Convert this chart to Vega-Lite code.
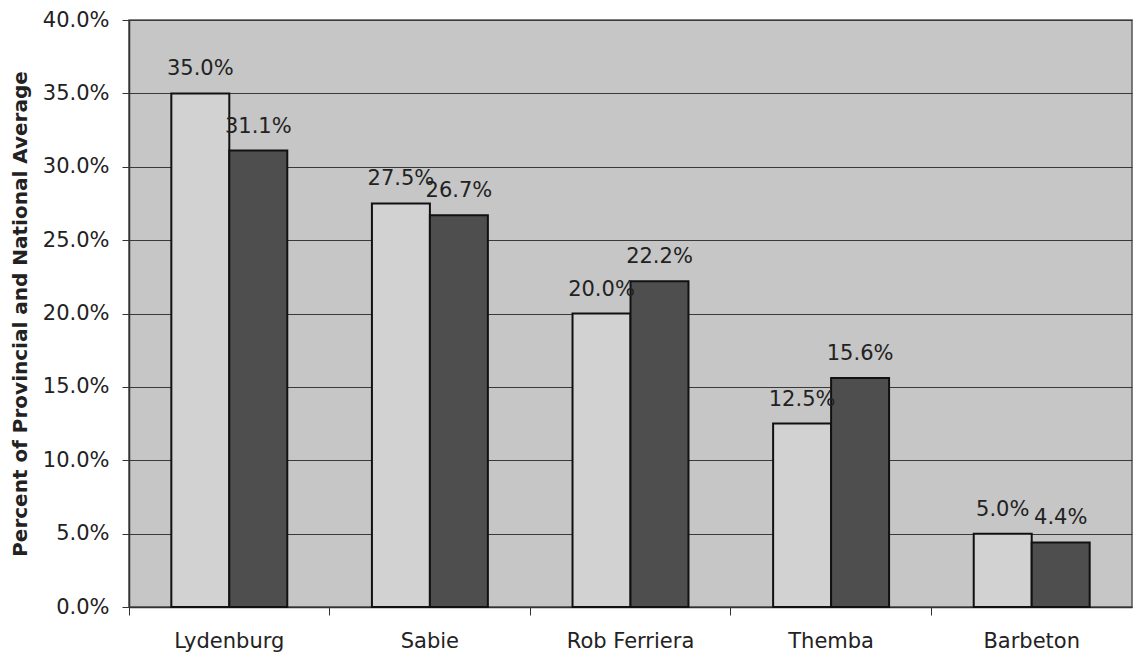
{
  "$schema": "https://vega.github.io/schema/vega-lite/v6.json",
  "width": 1003,
  "height": 587,
  "autosize": {"type": "none"},
  "padding": {"left": 129, "top": 20, "right": 8, "bottom": 51},
  "background": "#ffffff",
  "config": {
    "font": "DejaVu Sans",
    "view": {"fill": "#c6c6c6", "stroke": "#555555", "strokeWidth": 1.5}
  },
  "data": {
    "values": [
      {"district": "Lydenburg", "series": "Provincial", "share": 0.350},
      {"district": "Lydenburg", "series": "National", "share": 0.311},
      {"district": "Sabie", "series": "Provincial", "share": 0.275},
      {"district": "Sabie", "series": "National", "share": 0.267},
      {"district": "Rob Ferriera", "series": "Provincial", "share": 0.200},
      {"district": "Rob Ferriera", "series": "National", "share": 0.222},
      {"district": "Themba", "series": "Provincial", "share": 0.125},
      {"district": "Themba", "series": "National", "share": 0.156},
      {"district": "Barbeton", "series": "Provincial", "share": 0.050},
      {"district": "Barbeton", "series": "National", "share": 0.044}
    ]
  },
  "encoding": {
    "x": {
      "field": "district",
      "type": "nominal",
      "sort": null,
      "scale": {"paddingInner": 0, "paddingOuter": 0},
      "axis": {
        "title": null,
        "labelAngle": 0,
        "labelFontSize": 21,
        "labelColor": "#222222",
        "labelPadding": 15,
        "bandPosition": 0,
        "tickSize": 8,
        "tickColor": "#333333",
        "domainColor": "#333333",
        "domainWidth": 1.5,
        "grid": false
      }
    },
    "xOffset": {
      "field": "series",
      "type": "nominal",
      "sort": ["Provincial", "National"],
      "scale": {"paddingInner": 0, "paddingOuter": 0.73}
    },
    "y": {
      "field": "share",
      "type": "quantitative",
      "scale": {"domain": [0, 0.4], "nice": false},
      "axis": {
        "title": "Percent of Provincial and National Average",
        "titleFontSize": 20,
        "titleFontWeight": "bold",
        "titleColor": "#222222",
        "titlePadding": 12,
        "format": ".1%",
        "values": [0, 0.05, 0.1, 0.15, 0.2, 0.25, 0.3, 0.35, 0.4],
        "labelFontSize": 21,
        "labelColor": "#222222",
        "labelPadding": 13,
        "tickSize": 7,
        "tickColor": "#333333",
        "domainColor": "#333333",
        "domainWidth": 1.5,
        "grid": true,
        "gridColor": "#3a3a3a",
        "gridWidth": 1
      }
    }
  },
  "layer": [
    {
      "mark": {"type": "bar", "stroke": "#111111", "strokeWidth": 2},
      "encoding": {
        "color": {
          "field": "series",
          "type": "nominal",
          "scale": {"domain": ["Provincial", "National"], "range": ["#d2d2d2", "#4e4e4e"]},
          "legend": null
        }
      }
    },
    {
      "mark": {"type": "text", "baseline": "middle", "dy": -24, "fontSize": 21, "color": "#222222"},
      "encoding": {
        "text": {"field": "share", "type": "quantitative", "format": ".1%"}
      }
    }
  ]
}
